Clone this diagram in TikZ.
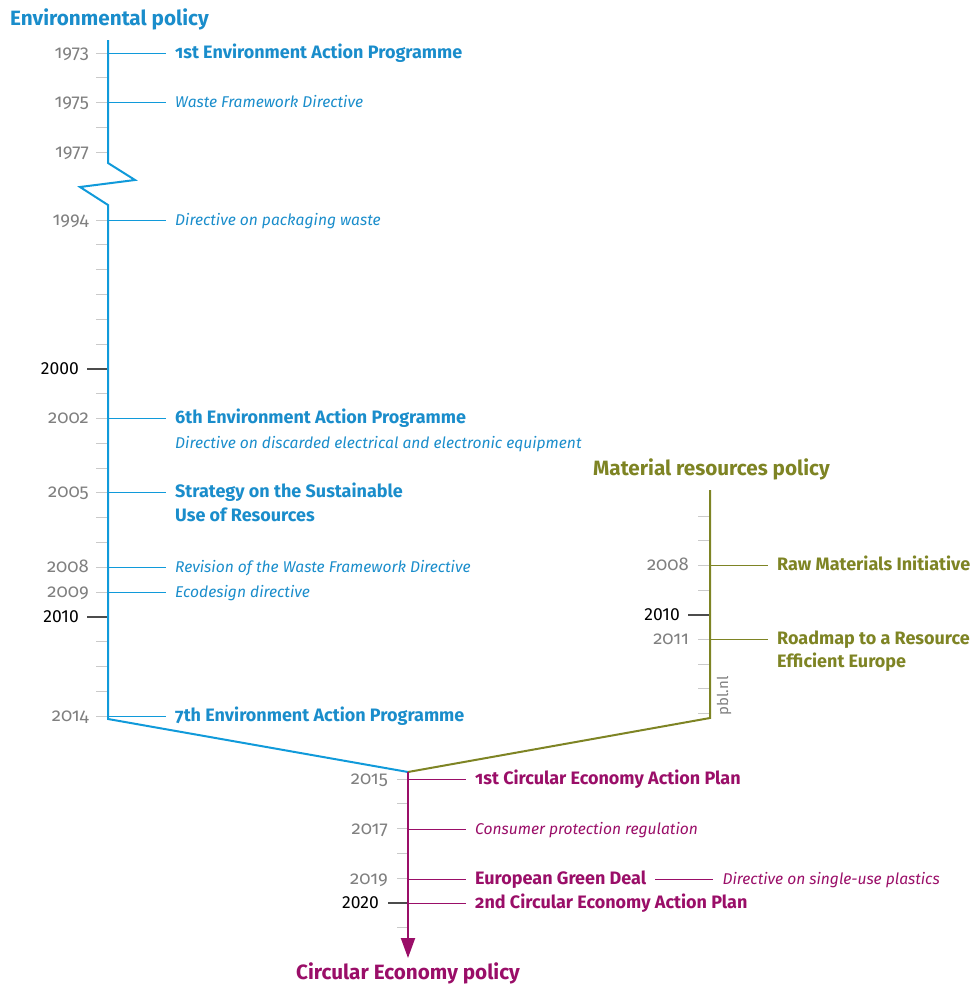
\documentclass[tikz,border=0pt]{standalone}
\usepackage{fontspec}
\setmainfont{Fira Sans}[Numbers=OldStyle]
\usetikzlibrary{arrows.meta}

\definecolor{envblue}{HTML}{1A8DCB}
\definecolor{envline}{HTML}{109ADA}
\definecolor{matgreen}{HTML}{7E8424}
\definecolor{circpurple}{HTML}{9A0E68}
\definecolor{yeargray}{HTML}{808080}
\definecolor{tickgray}{HTML}{CACACA}

\tikzset{
  axis/.style={line width=2pt, line join=miter},
  minortick/.style={tickgray, line width=1pt},
  majortick/.style={black!70, line width=1.2pt},
  year/.style={anchor=base east, yshift=-5pt, inner sep=0pt, text=yeargray, font=\fontsize{18.5}{20}\selectfont\addfontfeatures{RawFeature=+onum}},
  majoryear/.style={year, text=black, font=\fontsize{17.5}{20}\selectfont\addfontfeatures{Numbers=Lining}},
  link/.style={line width=1pt},
  event/.style={anchor=base west, yshift=-5pt, inner xsep=9pt, inner ysep=0pt, font=\bfseries\fontsize{18}{22}\selectfont},
  minorevent/.style={event, font=\itshape\fontsize{15.6}{20}\selectfont},
  title/.style={anchor=base west, inner sep=0pt, font=\bfseries\fontsize{20.7}{24}\selectfont},
}

\begin{document}
\begin{tikzpicture}[x=1pt, y=-1pt]
  \useasboundingbox (0,0) rectangle (973,985);

  % titles
  \node[title, text=envblue] (envtitle) at (10,25) {Environmental policy};
  \node[title, text=matgreen] (mattitle) at (593,475) {Material resources policy};
  \node[title, text=circpurple] (circtitle) at (296,979) {Circular Economy policy};

  % axis points
  \coordinate (env1973) at (108,53);
  \coordinate (env1975) at (108,102);
  \coordinate (env1994) at (108,220);
  \coordinate (env2002) at (108,418);
  \coordinate (env2005) at (108,492);
  \coordinate (env2008) at (108,567);
  \coordinate (env2009) at (108,592);
  \coordinate (env2014) at (108,716);
  \coordinate (mat2008) at (710,565);
  \coordinate (mat2011) at (710,639);
  \coordinate (circ2015) at (408,779);
  \coordinate (circ2017) at (408,829);
  \coordinate (circ2019) at (408,879);
  \coordinate (circ2020) at (408,903);

  % minor ticks
  \foreach \t in {0,...,4}
    \draw[minortick] (96,{53+24.75*\t}) -- ++(12,0);
  \foreach \t in {0,...,20}
    \draw[minortick] (96,{220+24.8*\t}) -- ++(12,0);
  \foreach \t in {0,...,8}
    \draw[minortick] (698,{516+24.7*\t}) -- ++(12,0);
  \foreach \t in {0,...,6}
    \draw[minortick] (397,{779+24.8*\t}) -- ++(11,0);

  % major ticks
  \draw[majortick] (87,369) -- (108,369);
  \draw[majortick] (87,617) -- (108,617);
  \draw[majortick] (688,615) -- (710,615);
  \draw[majortick] (388,903) -- (408,903);

  % the three axes
  \coordinate (envtop) at (108,40);
  \coordinate (envend) at (108,719);
  \coordinate (mattop) at (710,490);
  \coordinate (matend) at (710,718);
  \coordinate (merge) at (408,772);
  \coordinate (circend) at (408,958);
  \draw[axis, envline] (envtop) -- (108,163) -- (135,180) -- (80,187) -- (108,205) -- (envend) -- (merge);
  \draw[axis, matgreen] (mattop) -- (matend) -- (merge);
  \draw[axis, circpurple, -{Triangle[length=20pt, width=14pt]}] (merge) -- (circend);

  % years
  \node[year] (y1973) at (89,53) {1973};
  \node[year] (y1975) at (89,102) {1975};
  \node[year] (y1977) at (89,152) {1977};
  \node[year] (y1994) at (89,220) {1994};
  \node[majoryear] (y2000) at (79,369) {2000};
  \node[year] (y2002) at (89,418) {2002};
  \node[year] (y2005) at (89,492) {2005};
  \node[year] (y2008) at (89,567) {2008};
  \node[year] (y2009) at (89,592) {2009};
  \node[majoryear] (y2010) at (79,617) {2010};
  \node[year] (y2014) at (89,716) {2014};
  \node[year] (ym2008) at (689,565) {2008};
  \node[majoryear] (ym2010) at (680,615) {2010};
  \node[year] (ym2011) at (689,639) {2011};
  \node[year] (yc2015) at (388,779) {2015};
  \node[year] (yc2017) at (388,829) {2017};
  \node[year] (yc2019) at (388,879) {2019};
  \node[majoryear] (yc2020) at (379,903) {2020};

  % environmental policy events
  \begin{scope}[text=envblue]
    \node[event] (ev1973) at (166,53) {1st Environment Action Programme};
    \node[minorevent] (ev1975) at (166,102) {Waste Framework Directive};
    \node[minorevent] (ev1994) at (166,220) {Directive on packaging waste};
    \node[event] (ev2002) at (166,418) {6th Environment Action Programme};
    \node[minorevent] (ev2002b) at (166,443) {Directive on discarded electrical and electronic equipment};
    \node[event] (ev2005) at (166,492) {Strategy on the Sustainable};
    \node[event] (ev2005b) at (166,516) {Use of Resources};
    \node[minorevent] (ev2008) at (166,567) {Revision of the Waste Framework Directive};
    \node[minorevent] (ev2009) at (166,592) {Ecodesign directive};
    \node[event] (ev2014) at (166,716) {7th Environment Action Programme};
  \end{scope}
  \foreach \y in {1973,1975,1994,2002,2005,2008,2009,2014}
    \draw[link, envline] (env\y) -- (ev\y.west |- env\y);

  % material resources events
  \begin{scope}[text=matgreen]
    \node[event] (evm2008) at (768,565) {Raw Materials Initiative};
    \node[event] (evm2011) at (768,639) {Roadmap to a Resource};
    \node[event] (evm2011b) at (768,662) {Efficient Europe};
  \end{scope}
  \foreach \y in {2008,2011}
    \draw[link, matgreen] (mat\y) -- (evm\y.west |- mat\y);
  \node[rotate=90, inner sep=0pt, text=yeargray, font=\fontsize{15}{16}\selectfont] (credit) at (724,696) {pbl.nl};

  % circular economy events
  \begin{scope}[text=circpurple]
    \node[event] (evc2015) at (466,779) {1st Circular Economy Action Plan};
    \node[minorevent] (evc2017) at (466,829) {Consumer protection regulation};
    \node[event] (evc2019) at (466,879) {European Green Deal};
    \coordinate (gdend) at (evc2019.east |- circ2019);
    \node[minorevent] (evc2019b) at ([xshift=58pt]gdend) {Directive on single-use plastics};
    \node[event] (evc2020) at (466,903) {2nd Circular Economy Action Plan};
  \end{scope}
  \foreach \y in {2015,2017,2019,2020}
    \draw[link, circpurple] (circ\y) -- (evc\y.west |- circ\y);
  \draw[link, circpurple] (gdend) -- (evc2019b.west |- circ2019);
\end{tikzpicture}
\end{document}
